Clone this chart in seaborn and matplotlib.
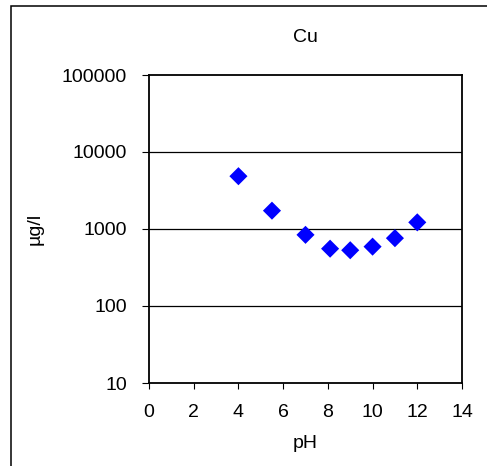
import matplotlib
matplotlib.use("Agg")
import matplotlib.pyplot as plt
import matplotlib.ticker as mticker
from matplotlib.patches import Rectangle
import seaborn as sns
import pandas as pd

# values
ph = [4, 5.5, 7, 8.1, 9, 10, 11, 12]
cu = [4850, 1730, 840, 555, 530, 590, 760, 1220]

x_ticks = [0, 2, 4, 6, 8, 10, 12, 14]
y_ticks = [10, 100, 1000, 10000, 100000]

df = pd.DataFrame({"pH": ph, "Cu": cu})

sns.set_style("white")
plt.rcParams['font.family'] = ['Liberation Sans', 'DejaVu Sans']
plt.rcParams['text.color'] = 'black'
plt.rcParams['axes.labelcolor'] = 'black'
plt.rcParams['xtick.color'] = 'black'
plt.rcParams['ytick.color'] = 'black'
plt.rcParams['xtick.bottom'] = True
plt.rcParams['ytick.left'] = True

FS = 14

fig = plt.figure(figsize=(4.87, 4.66), dpi=100)
ax = fig.add_axes([149 / 487, 1 - 383 / 466, (462 - 149) / 487, (383 - 75) / 466])

# outer chart border (only left/top visible in reference)
fig.patches.append(Rectangle((11 / 487, -0.05), 1.2, 1 - 6 / 466 + 0.05,
                             transform=fig.transFigure, fill=False,
                             edgecolor="black", linewidth=1.1, zorder=0))

sns.scatterplot(data=df, x="pH", y="Cu", ax=ax, marker="D", s=85,
                color="#0000FF", edgecolor="none", linewidth=0, zorder=3)

ax.set_yscale("log")
ax.set_xlim(0, 14)
ax.set_ylim(10, 100000)
ax.set_xticks(x_ticks)
ax.set_yticks(y_ticks)
ax.yaxis.set_major_formatter(mticker.FuncFormatter(lambda v, p: f"{int(v)}"))
ax.yaxis.set_minor_locator(mticker.NullLocator())

for v in y_ticks[1:-1]:
    ax.axhline(v, color="black", linewidth=0.9, zorder=1)

for s in ax.spines.values():
    s.set_visible(True)
    s.set_color("black")
    s.set_linewidth(1.3)

ax.tick_params(axis="x", which="major", direction="out", length=4,
               width=0.8, labelsize=FS, pad=11)
ax.tick_params(axis="y", which="major", direction="out", length=5,
               width=0.8, labelsize=FS, pad=11)

ax.set_xlabel("pH", fontsize=FS)
ax.xaxis.set_label_coords(0.5, -(444 - 383) / (383 - 75), transform=ax.transAxes)
ax.xaxis.label.set_verticalalignment("center")
ax.set_ylabel("µg/l", fontsize=FS)
ax.yaxis.set_label_coords(-(149 - 35) / (462 - 149), 0.5)
ax.yaxis.label.set_verticalalignment("center")
ax.set_title("Cu", fontsize=FS, pad=24)

fig.savefig("out.png", dpi=100)
